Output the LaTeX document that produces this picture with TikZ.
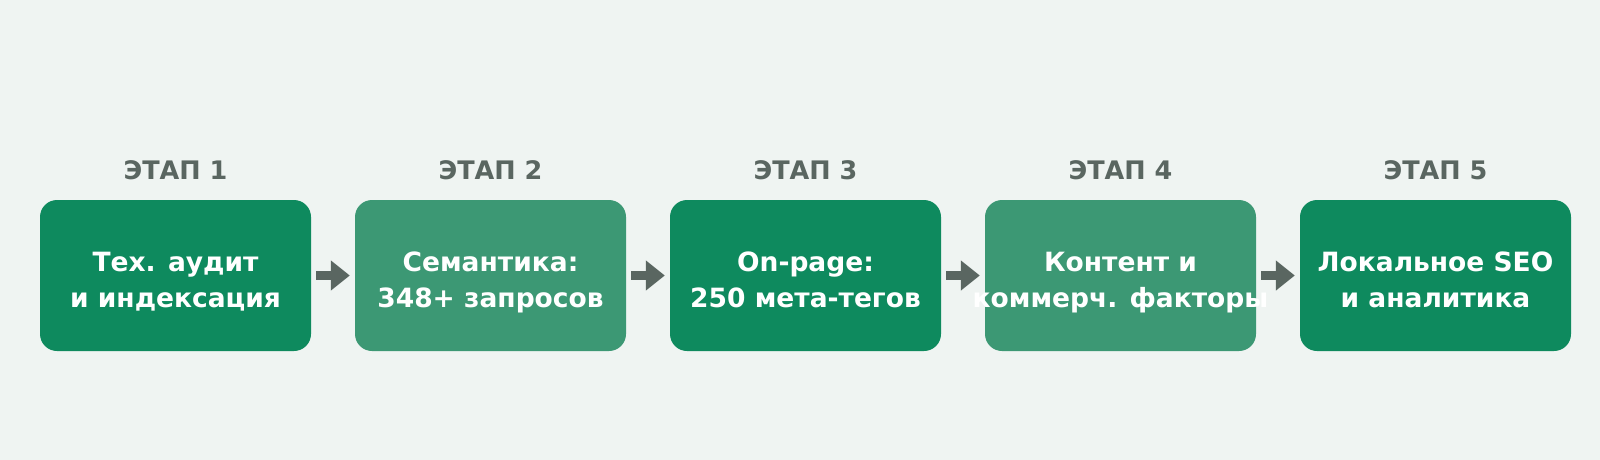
\documentclass[tikz,border=0pt]{standalone}
\usepackage{fontspec}
\setmainfont{DejaVu Sans}
\usetikzlibrary{arrows.meta}
\definecolor{bgc}{HTML}{EFF4F2}
\definecolor{darkg}{HTML}{0E8A5E}
\definecolor{lightg}{HTML}{3C9874}
\definecolor{grayc}{HTML}{5A6661}
\newcommand\ctrline[1]{\makebox[0pt]{\rule[-10.8pt]{0pt}{36pt}#1}}
\tikzset{
  stagebox/.style={rounded corners=17pt, minimum width=271pt, minimum height=151pt,
    inner sep=0pt},
  darkbox/.style={stagebox, fill=darkg},
  lightbox/.style={stagebox, fill=lightg},
  boxtext/.style={text=white, align=center, inner sep=0pt, yshift=-6.3pt,
    font=\bfseries\fontsize{26.5}{36}\selectfont},
  stagelabel/.style={text=grayc, font=\bfseries\fontsize{25.5}{30}\selectfont, inner sep=0pt},
  flowarrow/.style={draw=grayc, line width=9pt, shorten <=5pt, shorten >=5pt,
    -{Triangle[length=19pt,width=29pt]}}
}
\begin{document}
\begin{tikzpicture}[x=1pt,y=-1pt]
\fill[bgc] (0,0) rectangle (1600,460);
\useasboundingbox (0,0) rectangle (1600,460);
\node[darkbox, label={[boxtext]center:\ctrline{Тех. аудит}\\\ctrline{и индексация}}] (b1) at (175.5,275.5) {};
\node[lightbox, label={[boxtext]center:\ctrline{Семантика:}\\\ctrline{348+ запросов}}] (b2) at (490.5,275.5) {};
\node[darkbox, label={[boxtext]center:\ctrline{On-page:}\\\ctrline{250 мета-тегов}}] (b3) at (805.5,275.5) {};
\node[lightbox, label={[boxtext]center:\ctrline{Контент и}\\\ctrline{коммерч. факторы}}] (b4) at (1120.5,275.5) {};
\node[darkbox, label={[boxtext]center:\ctrline{Локальное SEO}\\\ctrline{и аналитика}}] (b5) at (1435.5,275.5) {};
\node[stagelabel] (l1) at (175.5,170) {ЭТАП 1};
\node[stagelabel] (l2) at (490.5,170) {ЭТАП 2};
\node[stagelabel] (l3) at (805.5,170) {ЭТАП 3};
\node[stagelabel] (l4) at (1120.5,170) {ЭТАП 4};
\node[stagelabel] (l5) at (1435.5,170) {ЭТАП 5};
\draw[flowarrow] (b1) -- (b2);
\draw[flowarrow] (b2) -- (b3);
\draw[flowarrow] (b3) -- (b4);
\draw[flowarrow] (b4) -- (b5);
\end{tikzpicture}
\end{document}
